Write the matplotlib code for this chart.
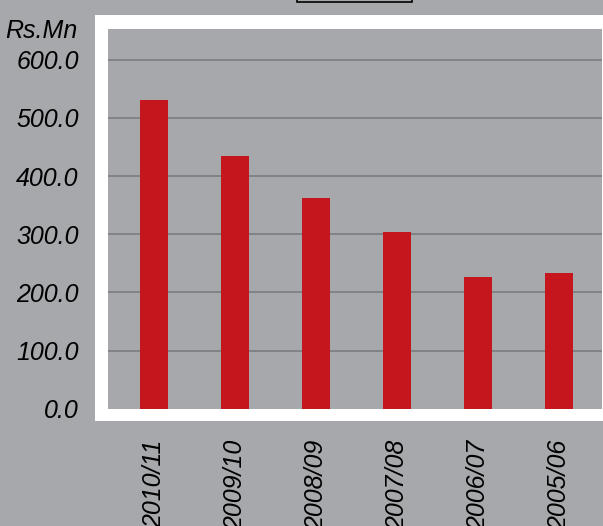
import matplotlib
matplotlib.use("Agg")
import matplotlib.pyplot as plt
from matplotlib.patches import Rectangle

years = ["2010/11", "2009/10", "2008/09", "2007/08", "2006/07", "2005/06"]
values = [531.0, 434.5, 362.5, 304.0, 226.5, 233.5]
y_ticks = [0, 100, 200, 300, 400, 500, 600]
y_tick_labels = [f"{t:.1f}" for t in y_ticks]

W, H = 603, 526
bg = "#a7a8ac"
bar_color = "#c5161d"
grid_color = "#78787b"

plt.rcParams["font.family"] = ["Liberation Sans", "DejaVu Sans"]

fig = plt.figure(figsize=(W / 100, H / 100), dpi=100, facecolor=bg)

# white frame around the plot area
fig.patches.append(Rectangle((95 / W, 1 - 421 / H), (640 - 95) / W, (421 - 15) / H,
                             transform=fig.transFigure, facecolor="white",
                             edgecolor="none", zorder=-2))
# title box edge peeking in at the top
fig.patches.append(Rectangle((297 / W, 1 - 1.8 / H), (412 - 297) / W, 20 / H,
                             transform=fig.transFigure, facecolor=bg,
                             edgecolor="black", linewidth=1.2, zorder=-2))

left, right = 108 / W, 602 / W
bottom, top = 1 - 408.7 / H, 1 - 29 / H
ax = fig.add_axes([left, bottom, right - left, top - bottom])
ax.set_zorder(2)
ax.set_facecolor(bg)

x = range(len(years))
ax.bar(x, values, width=0.35, color=bar_color, zorder=3)

ax.set_xlim(-0.57, 5.53)
ax.set_ylim(0, 653)
ax.set_yticks(y_ticks)
ax.set_yticklabels(y_tick_labels, fontsize=18, style="italic")
ax.set_xticks(list(x))
ax.set_xticklabels(years, rotation=90, fontsize=18, style="italic", va="top")
ax.tick_params(axis="both", length=0)
ax.tick_params(axis="y", pad=21)
ax.tick_params(axis="x", pad=22)

for t in y_ticks[1:]:
    ax.axhline(t, color=grid_color, linewidth=1.1, zorder=1)

for s in ax.spines.values():
    s.set_visible(False)

fig.text(77 / W, 1 - 31 / H, "Rs.Mn", fontsize=18, style="italic",
         ha="right", va="center")

fig.savefig("out.png", dpi=100, facecolor=bg)
